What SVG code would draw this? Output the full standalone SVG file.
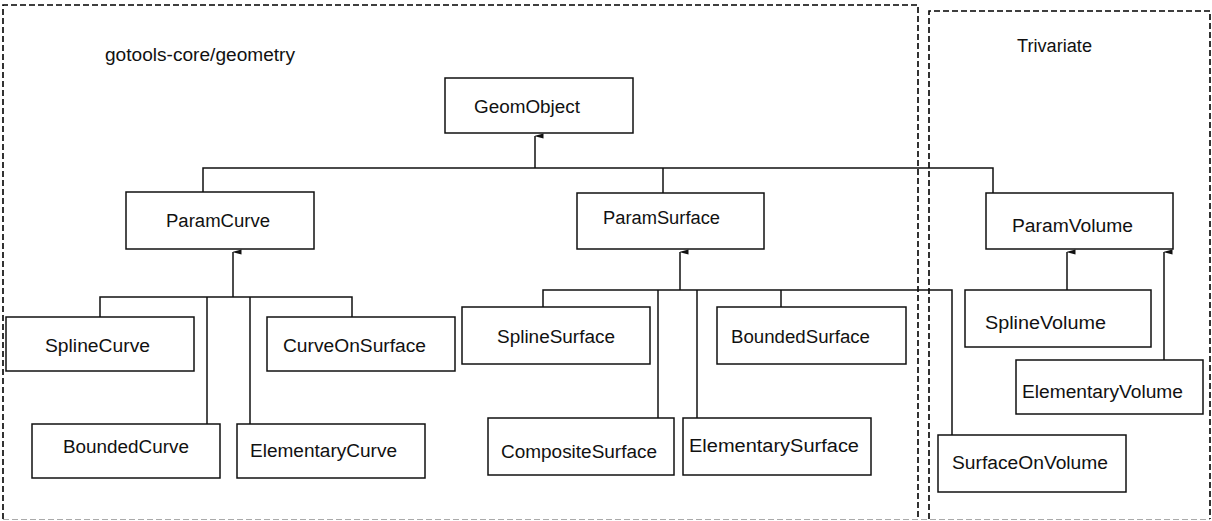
<svg xmlns="http://www.w3.org/2000/svg" width="1212" height="521" viewBox="0 0 1212 521">
  <style>
    .pkg { fill: none; stroke: #000; stroke-width: 1.6; stroke-dasharray: 6 3; }
    .pkg-base { fill: none; stroke: #aaa; stroke-width: 1.2; stroke-dasharray: 6 3; }
    .box { fill: #fff; stroke: #111; stroke-width: 1.5; }
    .lbl { font-family: "Liberation Sans", Arial, sans-serif; font-size: 18px; fill: #111; }
    .edge { fill: none; stroke: #111; stroke-width: 1.5; }
    .up { fill: none; stroke: #111; stroke-width: 1.5; marker-end: url(#tip); }
  </style>
  <defs>
    <marker id="tip" viewBox="0 0 6 9" refX="3" refY="0.5" markerWidth="6" markerHeight="9" markerUnits="userSpaceOnUse" orient="auto-start-reverse">
      <path d="M0.5,9 L3,0 L5.5,9 Z" fill="#111"/>
    </marker>
  </defs>
  <rect width="1212" height="521" fill="#fff"/>

  <!-- package frames -->
  <g id="pkg-geometry">
    <path class="pkg" d="M3,519 V5 H918 V519"/>
    <text class="lbl" x="105" y="61" textLength="190" lengthAdjust="spacingAndGlyphs">gotools-core/geometry</text>
  </g>
  <g id="pkg-trivariate">
    <path class="pkg" d="M929,519 V11 H1210 V519"/>
    <text class="lbl" x="1017" y="52" textLength="75" lengthAdjust="spacingAndGlyphs">Trivariate</text>
  </g>
  <path class="pkg-base" d="M3,519.5 H1210"/>

  <!-- inheritance connectors -->
  <g id="connectors">
    <!-- GeomObject hierarchy -->
    <path class="edge" d="M203,192 V168 H993 V193"/>
    <path class="edge" d="M663,168 V193"/>
    <path class="up" d="M535,168 V136"/>
    <!-- ParamCurve hierarchy -->
    <path class="edge" d="M100,317 V297 H352 V317"/>
    <path class="edge" d="M207,424 V297"/>
    <path class="edge" d="M250,424 V297"/>
    <path class="up" d="M233,297 V252"/>
    <!-- ParamSurface hierarchy -->
    <path class="edge" d="M543,307 V290 H952 V435"/>
    <path class="edge" d="M781,290 V307"/>
    <path class="edge" d="M658,418 V290"/>
    <path class="edge" d="M697,418 V290"/>
    <path class="up" d="M680,290 V252"/>
    <!-- ParamVolume hierarchy -->
    <path class="up" d="M1067,290 V252"/>
    <path class="up" d="M1164,360 V252"/>
  </g>

  <g id="GeomObject">
    <rect class="box" x="445" y="78" width="188" height="55"/>
    <text class="lbl" x="474" y="113" textLength="106" lengthAdjust="spacingAndGlyphs">GeomObject</text>
  </g>
  <g id="ParamCurve">
    <rect class="box" x="126" y="192" width="188" height="57"/>
    <text class="lbl" x="166" y="227" textLength="104" lengthAdjust="spacingAndGlyphs">ParamCurve</text>
  </g>
  <g id="ParamSurface">
    <rect class="box" x="577" y="193" width="187" height="56"/>
    <text class="lbl" x="603" y="224" textLength="117" lengthAdjust="spacingAndGlyphs">ParamSurface</text>
  </g>
  <g id="ParamVolume">
    <rect class="box" x="986" y="193" width="187" height="56"/>
    <text class="lbl" x="1012" y="232" textLength="121" lengthAdjust="spacingAndGlyphs">ParamVolume</text>
  </g>
  <g id="SplineCurve">
    <rect class="box" x="6" y="317" width="188" height="54"/>
    <text class="lbl" x="45" y="352" textLength="105" lengthAdjust="spacingAndGlyphs">SplineCurve</text>
  </g>
  <g id="CurveOnSurface">
    <rect class="box" x="267" y="317" width="188" height="54"/>
    <text class="lbl" x="283" y="352" textLength="143" lengthAdjust="spacingAndGlyphs">CurveOnSurface</text>
  </g>
  <g id="BoundedCurve">
    <rect class="box" x="32" y="424" width="188" height="54"/>
    <text class="lbl" x="63" y="453" textLength="126" lengthAdjust="spacingAndGlyphs">BoundedCurve</text>
  </g>
  <g id="ElementaryCurve">
    <rect class="box" x="237" y="424" width="188" height="54"/>
    <text class="lbl" x="250" y="457" textLength="147" lengthAdjust="spacingAndGlyphs">ElementaryCurve</text>
  </g>
  <g id="SplineSurface">
    <rect class="box" x="462" y="307" width="188" height="57"/>
    <text class="lbl" x="497" y="343" textLength="118" lengthAdjust="spacingAndGlyphs">SplineSurface</text>
  </g>
  <g id="BoundedSurface">
    <rect class="box" x="717" y="307" width="189" height="57"/>
    <text class="lbl" x="731" y="343" textLength="139" lengthAdjust="spacingAndGlyphs">BoundedSurface</text>
  </g>
  <g id="CompositeSurface">
    <rect class="box" x="488" y="418" width="186" height="57"/>
    <text class="lbl" x="501" y="458" textLength="156" lengthAdjust="spacingAndGlyphs">CompositeSurface</text>
  </g>
  <g id="ElementarySurface">
    <rect class="box" x="683" y="418" width="188" height="57"/>
    <text class="lbl" x="689" y="452" textLength="170" lengthAdjust="spacingAndGlyphs">ElementarySurface</text>
  </g>
  <g id="SplineVolume">
    <rect class="box" x="965" y="290" width="186" height="57"/>
    <text class="lbl" x="985" y="329" textLength="121" lengthAdjust="spacingAndGlyphs">SplineVolume</text>
  </g>
  <g id="ElementaryVolume">
    <rect class="box" x="1016" y="360" width="187" height="54"/>
    <text class="lbl" x="1022" y="398" textLength="161" lengthAdjust="spacingAndGlyphs">ElementaryVolume</text>
  </g>
  <g id="SurfaceOnVolume">
    <rect class="box" x="938" y="435" width="188" height="57"/>
    <text class="lbl" x="952" y="469" textLength="156" lengthAdjust="spacingAndGlyphs">SurfaceOnVolume</text>
  </g>
</svg>
